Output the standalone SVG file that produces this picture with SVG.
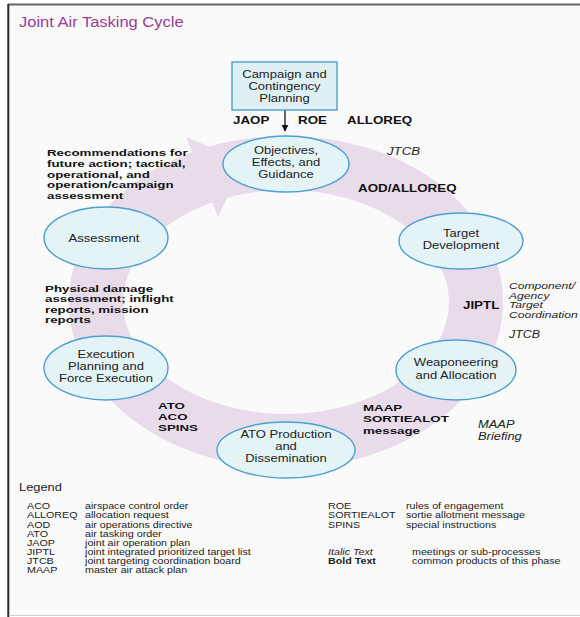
<svg xmlns="http://www.w3.org/2000/svg" width="580" height="617" viewBox="0 0 580 617">
  <style>
    text { font-family: "Liberation Sans", Arial, Helvetica, sans-serif; }
    .node ellipse { fill: #e4f3f6; stroke: #4c9fd1; stroke-width: 1.4; }
    .node rect { fill: #dff0f5; stroke: #4c9fd1; stroke-width: 1.4; }
    .nt { font-size: 11.5px; fill: #222; text-anchor: middle; }
    .b { font-size: 10.5px; font-weight: bold; fill: #111; }
    .bs { font-size: 9.8px; font-weight: bold; fill: #111; }
    .i { font-size: 10.5px; font-style: italic; fill: #222; }
    .lg { font-size: 9px; fill: #222; }
    .title { font-size: 15px; fill: #9b3b98; }
  </style>
  <defs>
    <marker id="arrowBlack" viewBox="0 0 10 10" refX="9" refY="5" markerWidth="7" markerHeight="7" markerUnits="userSpaceOnUse" orient="auto">
      <path d="M0,0 L10,5 L0,10 z" fill="#111"/>
    </marker>
  </defs>

  <!-- page frame -->
  <rect x="0" y="0" width="580" height="617" fill="#ffffff"/>
  <rect x="9" y="5" width="571" height="610" fill="#fafafa"/>
  <line x1="8" y1="4.5" x2="580" y2="4.5" stroke="#666" stroke-width="2"/>
  <line x1="8.3" y1="4" x2="8.3" y2="617" stroke="#2a2a2a" stroke-width="2"/>
  <line x1="9" y1="615.5" x2="580" y2="615.5" stroke="#cfcfcf" stroke-width="1"/>

  <text class="title" transform="translate(19,0) scale(1.1,1)" x="0" y="27">Joint Air Tasking Cycle</text>

  <!-- cycle band with arrowhead -->
  <g id="cycle">
    <ellipse cx="286" cy="302" rx="190" ry="139" fill="none" stroke="#e9dcea" stroke-width="54"/>
    <polygon points="186,137 218,217 245,161" fill="#e9dcea"/>
  </g>

  <!-- connectors -->
  <g id="connectors">
    <line x1="285" y1="110" x2="285" y2="131" stroke="#111" stroke-width="1.3" marker-end="url(#arrowBlack)"/>
  </g>

  <!-- nodes -->
  <g id="campaign" class="node">
    <rect x="232" y="62" width="105" height="48"/>
    <text class="nt" transform="translate(284.5,0) scale(1.13,1)"><tspan x="0" y="78">Campaign and</tspan><tspan x="0" y="90">Contingency</tspan><tspan x="0" y="102">Planning</tspan></text>
  </g>
  <g id="objectives" class="node">
    <ellipse cx="286" cy="164" rx="63" ry="28"/>
    <text class="nt" transform="translate(286,0) scale(1.13,1)"><tspan x="0" y="154.5">Objectives,</tspan><tspan x="0" y="166.5">Effects, and</tspan><tspan x="0" y="178.5">Guidance</tspan></text>
  </g>
  <g id="target" class="node">
    <ellipse cx="461" cy="241" rx="62" ry="28"/>
    <text class="nt" transform="translate(461,0) scale(1.13,1)"><tspan x="0" y="237">Target</tspan><tspan x="0" y="249">Development</tspan></text>
  </g>
  <g id="weaponeering" class="node">
    <ellipse cx="456" cy="370" rx="60" ry="30"/>
    <text class="nt" transform="translate(456,0) scale(1.13,1)"><tspan x="0" y="366">Weaponeering</tspan><tspan x="0" y="379">and Allocation</tspan></text>
  </g>
  <g id="ato" class="node">
    <ellipse cx="286" cy="450" rx="69" ry="28"/>
    <text class="nt" transform="translate(286,0) scale(1.13,1)"><tspan x="0" y="438">ATO Production</tspan><tspan x="0" y="450">and</tspan><tspan x="0" y="462">Dissemination</tspan></text>
  </g>
  <g id="execution" class="node">
    <ellipse cx="106" cy="368" rx="62" ry="32"/>
    <text class="nt" transform="translate(106,0) scale(1.13,1)"><tspan x="0" y="358">Execution</tspan><tspan x="0" y="370">Planning and</tspan><tspan x="0" y="382">Force Execution</tspan></text>
  </g>
  <g id="assessment" class="node">
    <ellipse cx="106" cy="238" rx="62" ry="31"/>
    <text class="nt" transform="translate(104,0) scale(1.13,1)" x="0" y="242">Assessment</text>
  </g>

  <!-- phase products (bold) and meetings (italic) -->
  <g id="labels">
    <text class="b" transform="translate(233,0) scale(1.27,1)" x="0" y="124">JAOP</text>
    <text class="b" transform="translate(298,0) scale(1.27,1)" x="0" y="124">ROE</text>
    <text class="b" transform="translate(347,0) scale(1.27,1)" x="0" y="124">ALLOREQ</text>
    <text class="i" transform="translate(387,0) scale(1.26,1)" x="0" y="155">JTCB</text>
    <text class="b" transform="translate(358,0) scale(1.27,1)" x="0" y="192">AOD/ALLOREQ</text>
    <text class="b" transform="translate(463,0) scale(1.27,1)" x="0" y="309">JIPTL</text>
    <text class="i" style="font-size:9.2px" transform="translate(509,0) scale(1.32,1)"><tspan x="0" y="289">Component/</tspan><tspan x="0" y="298.6">Agency</tspan><tspan x="0" y="308.2">Target</tspan><tspan x="0" y="317.8">Coordination</tspan></text>
    <text class="i" style="font-size:10px" transform="translate(509,0) scale(1.24,1)" x="0" y="338">JTCB</text>
    <text class="bs" transform="translate(363,0) scale(1.36,1)"><tspan x="0" y="411">MAAP</tspan><tspan x="0" y="422.3">SORTIEALOT</tspan><tspan x="0" y="433.6">message</tspan></text>
    <text class="i" transform="translate(478,0) scale(1.23,1)"><tspan x="0" y="428">MAAP</tspan><tspan x="0" y="440">Briefing</tspan></text>
    <text class="bs" transform="translate(158,0) scale(1.36,1)"><tspan x="0" y="409">ATO</tspan><tspan x="0" y="420">ACO</tspan><tspan x="0" y="431">SPINS</tspan></text>
    <text class="bs" transform="translate(47,0) scale(1.36,1)"><tspan x="0" y="156.5">Recommendations for</tspan><tspan x="0" y="167.1">future action; tactical,</tspan><tspan x="0" y="177.7">operational, and</tspan><tspan x="0" y="188.3">operation/campaign</tspan><tspan x="0" y="198.9">assessment</tspan></text>
    <text class="bs" transform="translate(45,0) scale(1.36,1)"><tspan x="0" y="292">Physical damage</tspan><tspan x="0" y="302.5">assessment; inflight</tspan><tspan x="0" y="313">reports, mission</tspan><tspan x="0" y="323.5">reports</tspan></text>
  </g>

  <!-- legend -->
  <g id="legend">
    <text style="font-size:11px;fill:#222" transform="translate(19,0) scale(1.17,1)" x="0" y="491">Legend</text>
    <text class="lg" transform="translate(27,0) scale(1.19,1)"><tspan x="0" y="509.5">ACO</tspan><tspan x="0" y="518.5">ALLOREQ</tspan><tspan x="0" y="527.6">AOD</tspan><tspan x="0" y="536.6">ATO</tspan><tspan x="0" y="545.7">JAOP</tspan><tspan x="0" y="554.7">JIPTL</tspan><tspan x="0" y="563.8">JTCB</tspan><tspan x="0" y="572.8">MAAP</tspan></text>
    <text class="lg" transform="translate(85,0) scale(1.19,1)"><tspan x="0" y="509.5">airspace control order</tspan><tspan x="0" y="518.5">allocation request</tspan><tspan x="0" y="527.6">air operations directive</tspan><tspan x="0" y="536.6">air tasking order</tspan><tspan x="0" y="545.7">joint air operation plan</tspan><tspan x="0" y="554.7">joint integrated prioritized target list</tspan><tspan x="0" y="563.8">joint targeting coordination board</tspan><tspan x="0" y="572.8">master air attack plan</tspan></text>
    <text class="lg" transform="translate(328,0) scale(1.19,1)"><tspan x="0" y="509.5">ROE</tspan><tspan x="0" y="518.5">SORTIEALOT</tspan><tspan x="0" y="527.6">SPINS</tspan></text>
    <text class="lg" transform="translate(406,0) scale(1.19,1)"><tspan x="0" y="509.5">rules of engagement</tspan><tspan x="0" y="518.5">sortie allotment message</tspan><tspan x="0" y="527.6">special instructions</tspan></text>
    <text class="lg" transform="translate(328,0) scale(1.19,1)"><tspan x="0" y="554.7" font-style="italic">Italic Text</tspan><tspan x="0" y="563.8" font-weight="bold">Bold Text</tspan></text>
    <text class="lg" transform="translate(412,0) scale(1.19,1)"><tspan x="0" y="554.7">meetings or sub-processes</tspan><tspan x="0" y="563.8">common products of this phase</tspan></text>
  </g>
</svg>
